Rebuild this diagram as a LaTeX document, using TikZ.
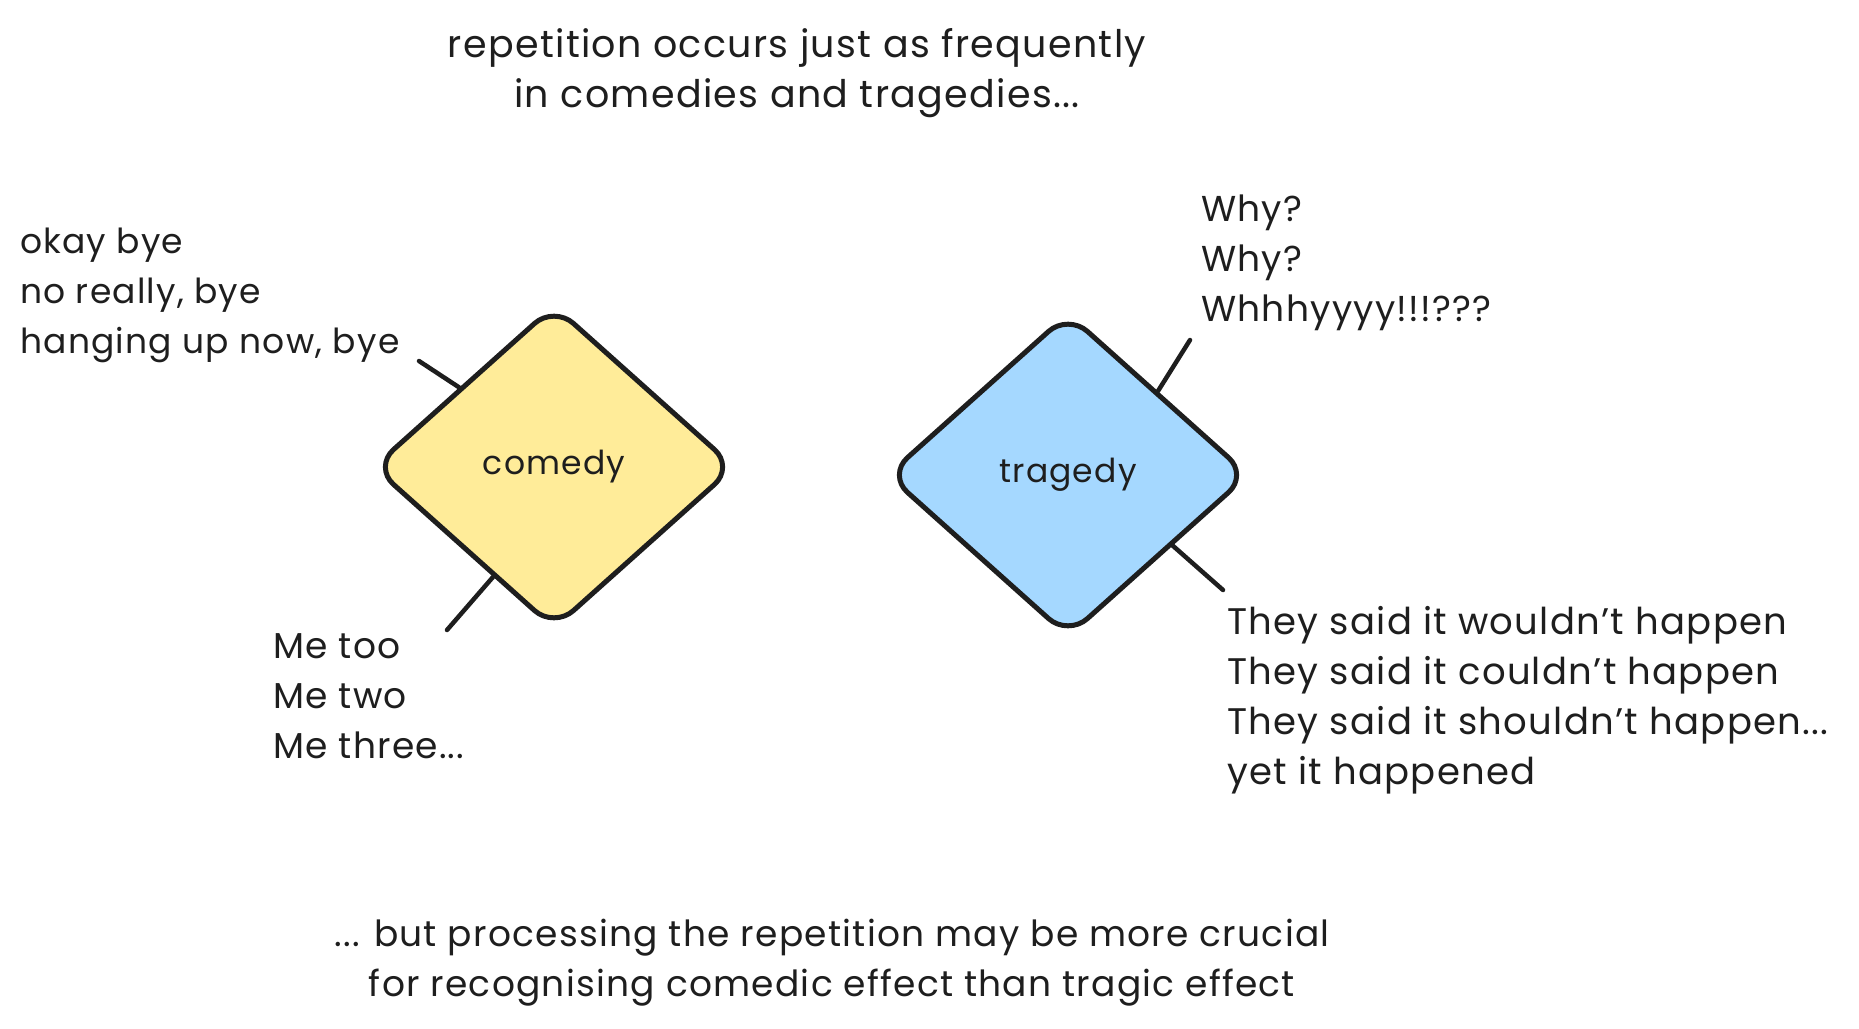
\documentclass[tikz,border=0pt]{standalone}
\usepackage{fontspec}
\setmainfont{Poppins}[LetterSpace = 3.5]
\usetikzlibrary{shapes.geometric}
\definecolor{ink}{HTML}{1E1E1E}
\definecolor{comedyfill}{HTML}{FFEC99}
\definecolor{tragedyfill}{HTML}{A5D8FF}
\tikzset{
  genre/.style = {diamond, draw = ink, line width = 5pt, rounded corners = 26pt,
    minimum width = 362pt, minimum height = 324pt, inner sep = 0pt,
    font = \fontsize{33}{45}\selectfont, text = ink},
  quote/.style = {align = left, inner sep = 0pt, text = ink,
    font = \fontsize{36}{50}\selectfont},
  caption/.style = {quote, align = center},
  tick/.style = {draw = ink, line width = 4.5pt, line cap = round}
}
\begin{document}
\begin{tikzpicture}[x = 1pt, y = -1pt]
  \useasboundingbox (0,0) rectangle (1859,1028);
  % the two genres
  \node [genre, fill = comedyfill] (comedy) at (554,467) {comedy};
  \node [genre, fill = tragedyfill] (tragedy) at (1068,475) {tragedy};
  % free ends of the ticks
  \coordinate (byeend) at (419,361);
  \coordinate (meend) at (447,630);
  \coordinate (whyend) at (1190,340);
  \coordinate (saidend) at (1223,590);
  \draw [tick] (comedy.140) -- (byeend);
  \draw [tick] (comedy.-119) -- (meend);
  \draw [tick] (tragedy.43) -- (whyend);
  \draw [tick] (tragedy.-34) -- (saidend);
  % the repeated lines
  \node [quote, anchor = west, font = \fontsize{34.5}{50}\selectfont] (bye)
    at (20,295) {okay bye\\no really, bye\\hanging up now, bye};
  \node [quote, anchor = west] (metoo) at (273,696)
    {Me too\\Me two\\Me three...};
  \node [quote, anchor = west] (why) at (1201,263)
    {Why?\\Why?\\Whhhyyyy!!!???};
  \node [quote, anchor = west, font = \fontsize{37}{50}\selectfont] (said)
    at (1227,700) {They said it wouldn't happen\\They said it couldn't happen\\
     They said it shouldn't happen...\\yet it happened};
  % top and bottom remarks
  \node [caption, font = \fontsize{38}{50}\selectfont] (intro) at (797,73)
    {repetition occurs just as frequently\\in comedies and tragedies...};
  \node [caption] (outro) at (832,963)
    {... but processing the repetition may be more crucial\\
     for recognising comedic effect than tragic effect};
\end{tikzpicture}
\end{document}
